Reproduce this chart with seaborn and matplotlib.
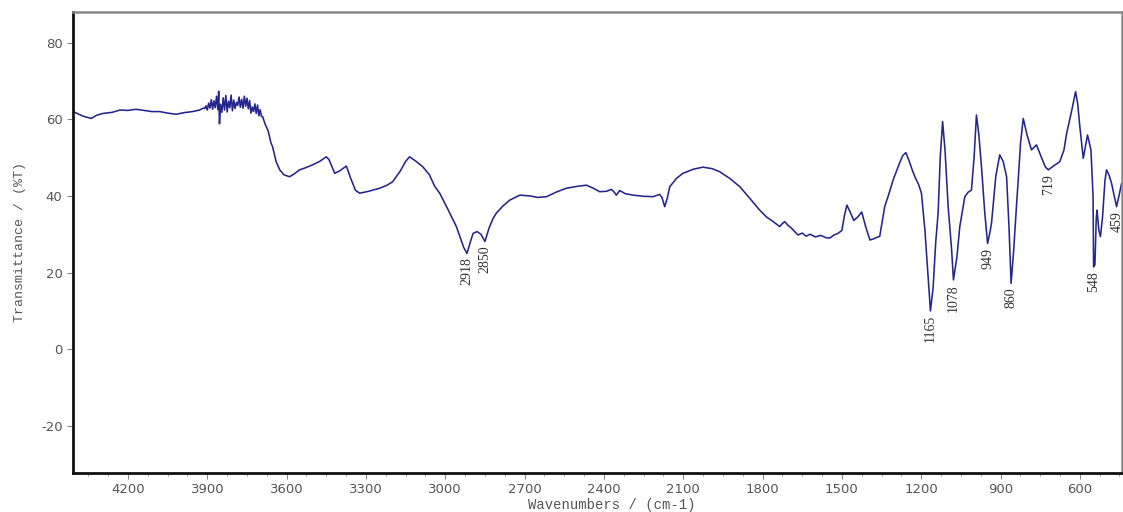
import matplotlib
matplotlib.use("Agg")
import matplotlib.pyplot as plt
import seaborn as sns
import pandas as pd
from matplotlib.ticker import MultipleLocator

# ---- data ----
wavenumber = [
    4405, 4395, 4370, 4339, 4320, 4296, 4260, 4230, 4200, 4169, 4140, 4110, 4080, 4050, 4017, 3990, 3956, 3930, 3915,
    3910, 3905, 3900, 3895, 3890, 3885, 3880, 3875, 3870, 3865, 3860, 3857, 3854, 3850, 3845, 3840, 3835, 3830,
    3825, 3820, 3815, 3810, 3805, 3800, 3795, 3790, 3785, 3780, 3775, 3770, 3765, 3760, 3755, 3750, 3745, 3740,
    3735, 3730, 3725, 3720, 3715, 3710, 3705, 3700, 3695,
    3691, 3680, 3670, 3660, 3653, 3640, 3626, 3610, 3589, 3570, 3551, 3530, 3502, 3475, 3450, 3440, 3418, 3400,
    3374, 3360, 3340, 3324, 3290, 3248, 3220, 3199, 3170, 3150, 3135, 3110, 3085, 3060, 3040, 3021, 2990, 2958,
    2940, 2930, 2918, 2905, 2895, 2880, 2865, 2850, 2835, 2820, 2807, 2780, 2756, 2718, 2680, 2650, 2617, 2580,
    2542, 2500, 2466, 2440, 2416, 2390, 2372, 2360, 2353, 2340, 2320, 2290, 2250, 2214, 2189, 2180, 2170, 2160,
    2151, 2125, 2101, 2060, 2025, 1990, 1962, 1925, 1886, 1850, 1811, 1785, 1760, 1735, 1725, 1716, 1705, 1691,
    1680, 1666, 1650, 1635, 1620, 1600, 1580, 1560, 1546, 1530, 1515, 1500, 1490, 1481, 1470, 1455, 1440, 1425,
    1410, 1394, 1380, 1364, 1357, 1338, 1320, 1306, 1285, 1270, 1258, 1245, 1235, 1224, 1210, 1199, 1186, 1175,
    1165, 1155, 1145, 1136, 1128, 1119, 1110, 1098, 1085, 1078, 1065, 1054, 1035, 1022, 1010, 1000, 991, 982,
    972, 960, 949, 940, 934, 918, 903, 890, 877, 868, 860, 850, 840, 833, 824, 814, 800, 783, 764, 745, 730,
    719, 700, 676, 660, 650, 630, 616, 608, 600, 587, 571, 558, 550, 548, 543, 538, 535, 528, 522, 514, 505,
    499, 490, 480, 470, 461, 452, 442,
]
transmittance = [
    61.9, 61.6, 60.8, 60.2, 61.0, 61.5, 61.8, 62.4, 62.3, 62.6, 62.3, 62.0, 62.0, 61.6, 61.3, 61.7, 62.0, 62.4, 62.9,
    62.8, 63.5, 62.4, 64.2, 62.9, 65.1, 62.6, 64.8, 63.0, 66.0, 62.5, 67.3, 58.8, 63.9, 61.8, 65.6, 62.4, 66.2,
    61.9, 64.7, 63.0, 66.3, 62.2, 65.0, 62.8, 64.4, 63.6, 65.8, 63.1, 65.2, 62.9, 66.0, 63.4, 65.5, 62.7, 64.9,
    61.6, 63.2, 62.0, 64.0, 61.5, 63.7, 60.9, 62.5, 60.7,
    60.7, 58.5, 57.0, 54.0, 52.8, 49.0, 46.8, 45.5, 45.0, 45.8, 46.8, 47.3, 48.1, 49.0, 50.2, 49.5, 45.9, 46.5,
    47.8, 45.0, 41.5, 40.7, 41.2, 42.0, 42.8, 43.7, 46.5, 49.0, 50.2, 49.0, 47.6, 45.5, 42.5, 40.7, 36.5, 32.0,
    28.5, 26.5, 25.0, 28.0, 30.2, 30.7, 30.0, 28.1, 31.5, 34.0, 35.5, 37.5, 38.9, 40.2, 40.0, 39.6, 39.8, 41.0,
    42.0, 42.5, 42.8, 42.0, 41.1, 41.2, 41.7, 40.9, 40.2, 41.4, 40.6, 40.2, 39.9, 39.8, 40.4, 39.5, 37.2, 39.5,
    42.4, 44.6, 45.9, 47.0, 47.5, 47.1, 46.3, 44.6, 42.4, 39.5, 36.3, 34.5, 33.3, 32.0, 32.8, 33.3, 32.4, 31.6,
    30.8, 29.8, 30.3, 29.5, 30.0, 29.3, 29.7, 29.1, 29.0, 29.8, 30.2, 31.0, 35.0, 37.6, 36.0, 33.6, 34.5, 35.8,
    32.0, 28.5, 28.8, 29.3, 29.4, 37.2, 41.0, 44.2, 48.0, 50.5, 51.3, 49.0, 47.0, 45.0, 43.0, 40.7, 31.1, 20.0,
    10.0, 16.0, 28.0, 35.5, 50.0, 59.4, 52.0, 37.2, 26.0, 18.1, 24.0, 32.0, 39.8, 41.0, 41.5, 50.0, 61.1, 56.0,
    47.6, 36.0, 27.6, 30.5, 32.9, 45.0, 50.7, 49.0, 45.0, 32.0, 17.2, 26.0, 37.0, 44.2, 54.0, 60.2, 56.0, 52.0,
    53.3, 50.0, 47.5, 46.8, 47.8, 48.9, 52.0, 56.3, 62.5, 67.2, 64.0, 58.1, 49.8, 55.9, 52.0, 40.0, 21.5, 22.0,
    34.0, 36.3, 31.0, 29.4, 34.6, 44.0, 46.8, 45.5, 43.3, 40.0, 37.2, 40.0, 43.3,
]
peak_positions = [2918, 2850, 1165, 1078, 949, 860, 719, 548, 459]
peak_values = [25.0, 28.1, 10.0, 18.1, 27.6, 17.2, 46.8, 21.5, 37.2]
peak_labels = ["2918", "2850", "1165", "1078", "949", "860", "719", "548", "459"]
x_ticks = [4200, 3900, 3600, 3300, 3000, 2700, 2400, 2100, 1800, 1500, 1200, 900, 600]
y_ticks = [-20, 0, 20, 40, 60, 80]

df = pd.DataFrame({"Wavenumber": wavenumber, "Transmittance": transmittance})

sns.set_style("white")
plt.rcParams["axes.unicode_minus"] = False
fig = plt.figure(figsize=(11.23, 5.12), dpi=100)
ax = fig.add_axes([0.065, 0.0768, 0.934, 0.8992])

sns.lineplot(data=df, x="Wavenumber", y="Transmittance", sort=False, estimator=None,
             color="#25258e", linewidth=1.15, ax=ax)

ax.set_xlim(4408, 441)
ax.set_ylim(-32.2, 87.9)
ax.set_xticks(x_ticks)
ax.set_yticks(y_ticks)
ax.xaxis.set_minor_locator(MultipleLocator(75))

ax.tick_params(axis="both", which="major", direction="out", length=4, width=0.8,
               color="#888888", labelcolor="#555555", labelsize=9.5)
ax.tick_params(axis="x", which="minor", direction="out", length=2.5, width=0.7, color="#999999")
ax.tick_params(axis="x", which="both", bottom=True)
ax.tick_params(axis="y", which="major", left=True)

for side in ["left", "bottom"]:
    ax.spines[side].set_color("#111111")
    ax.spines[side].set_linewidth(2.0)
for side in ["top", "right"]:
    ax.spines[side].set_color("#888888")
    ax.spines[side].set_linewidth(1.8)

ax.set_xlabel("Wavenumbers / (cm-1)", family="Liberation Mono", fontsize=10,
              color="#555555", labelpad=1)
ax.xaxis.set_label_coords(0.514, -0.056)
ax.set_ylabel("Transmittance / (%T)", family="Liberation Mono", fontsize=9.5,
              color="#555555")
ax.yaxis.set_label_coords(-0.045, 0.5)

for xp, yp, lab in zip(peak_positions, peak_values, peak_labels):
    ax.annotate(lab, xy=(xp, yp), xytext=(0, -3), textcoords="offset points",
                rotation=90, ha="center", va="top", fontsize=10,
                family="Liberation Serif", color="#333333")

fig.savefig("out.png", dpi=100)
